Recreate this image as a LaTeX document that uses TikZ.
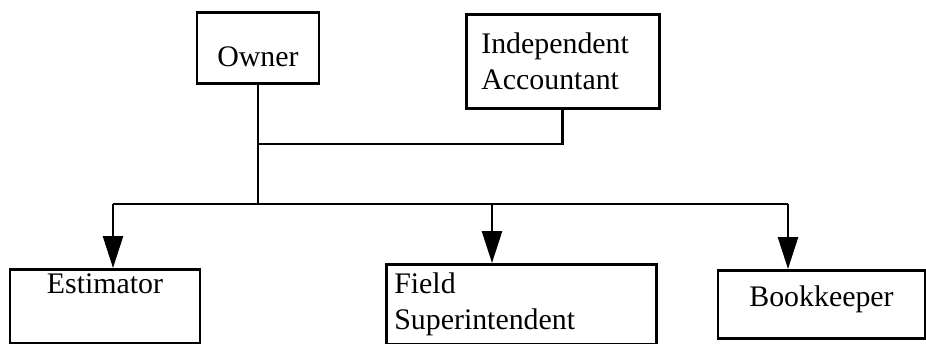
\documentclass[tikz,border=0pt]{standalone}
\usepackage{fontspec}
\setmainfont{Liberation Serif}
\usetikzlibrary{arrows.meta,positioning}

\begin{document}
\begin{tikzpicture}[x=0.02cm,y=-0.02cm,
    box/.style={draw,line width=1.5pt,inner xsep=0pt,inner ysep=0pt,
      font=\fontsize{17pt}{20.2pt}\selectfont},
    link/.style={line width=1.5pt},
    down/.style={link,-{Triangle[length=0.64cm,width=0.4cm]}}]
  \useasboundingbox (0,0) rectangle (926,344);
  % top row
  \node[box,anchor=north,minimum width=2.44cm,text height=1.08cm,text depth=0.34cm] (owner) at (258,11) {Owner};
  \node[box,anchor=north west,text width=3.26cm,inner xsep=0.3cm,minimum height=1.88cm,align=left] (acct) at (465,13) {Independent\\Accountant};
  % bottom row
  \node[box,anchor=north,minimum width=3.8cm,text height=0.48cm,text depth=1.0cm] (est) at (105,268) {Estimator};
  \node[box,anchor=north west,text width=5.08cm,inner xsep=0.16cm,minimum height=1.6cm,align=left] (field) at (385,263) {Field\\Superintendent};
  \node[box,anchor=north,minimum width=4.14cm,text height=0.72cm,text depth=0.64cm] (book) at (821.5,269) {Bookkeeper};
  % connectors
  \coordinate (join) at (258,144);
  \coordinate (bus) at (258,204);
  \coordinate (busW) at (113,204);
  \coordinate (busF) at (492,204);
  \coordinate (busE) at (788,204);
  \draw[link] (owner.south) -- (bus);
  \draw[link] (acct.south) |- (join);
  \draw[link] (busW) -- (busE);
  \draw[down] (busW) -- (busW |- est.north);
  \draw[down] (busF) -- (busF |- field.north);
  \draw[down] (busE) -- (busE |- book.north);
\end{tikzpicture}
\end{document}
